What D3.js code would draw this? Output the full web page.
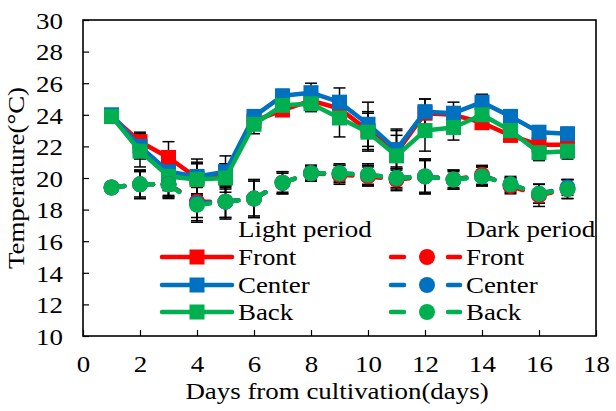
<!DOCTYPE html>
<html>
<head>
<meta charset="utf-8">
<script src="https://cdn.jsdelivr.net/npm/d3@7"></script>
<style>
  html, body { margin: 0; padding: 0; background: #fff; }
  svg { display: block; }
  text { font-family: "Liberation Serif", "Times New Roman", serif; fill: #000; }
</style>
</head>
<body>
<svg id="chart" width="616" height="411"></svg>
<script>
// ---- data ----
const days = [1,2,3,4,5,6,7,8,9,10,11,12,13,14,15,16,17];
const xTicks = [0,2,4,6,8,10,12,14,16,18];
const yTicks = [10,12,14,16,18,20,22,24,26,28,30];
const seriesNames = ["Front", "Center", "Back"];
const seriesColors = ["#FF0000", "#0070C0", "#00B050"];

const lightFront  = [23.9,22.3,21.3,20.0,20.1,23.6,24.3,24.9,24.4,23.0,21.6,24.1,24.0,23.5,22.7,22.1,22.1];
const lightCenter = [24.0,22.0,20.4,20.1,20.4,23.9,25.2,25.4,24.8,23.4,21.8,24.2,24.1,24.8,23.9,22.9,22.8];
const lightBack   = [23.9,21.7,20.1,19.9,20.0,23.4,24.6,24.7,23.8,22.9,21.4,23.0,23.2,24.0,23.0,21.6,21.7];
const darkFront   = [19.4,19.6,19.6,18.5,18.5,18.7,19.7,20.3,20.2,20.1,19.9,20.1,19.9,20.2,19.5,18.9,19.3];
const darkCenter  = [19.4,19.6,19.6,18.4,18.5,18.7,19.7,20.3,20.3,20.2,20.0,20.1,19.9,20.1,19.6,19.0,19.4];
const darkBack    = [19.4,19.6,19.6,18.3,18.5,18.7,19.7,20.3,20.3,20.2,20.0,20.1,19.9,20.1,19.6,19.0,19.3];

const lightFrontErr  = [0.4,0.6,1.0,1.0,0.8,0.5,0.3,0.6,0.8,1.2,1.4,0.9,0.5,0.4,0.4,0.5,0.4];
const lightCenterErr = [0.3,0.8,1.2,1.1,1.0,0.4,0.4,0.6,0.9,1.4,1.3,0.8,0.7,0.5,0.3,0.4,0.4];
const lightBackErr   = [0.4,1.0,1.2,1.0,0.9,0.6,0.5,0.5,1.2,1.2,1.3,1.3,0.8,0.4,0.6,0.5,0.5];
const darkFrontErr   = [0.3,0.9,0.9,1.0,1.0,1.2,0.7,0.5,0.6,0.6,0.7,1.1,0.5,0.6,0.5,0.7,0.6];
const darkCenterErr  = [0.3,0.8,0.8,1.1,1.1,1.1,0.6,0.4,0.5,0.7,0.6,1.0,0.6,0.6,0.4,0.6,0.5];
const darkBackErr    = [0.3,0.9,0.8,1.1,1.0,1.2,0.7,0.5,0.6,0.6,0.7,1.1,0.6,0.6,0.5,0.6,0.6];

const lightSeries = [
  {name: seriesNames[0], color: seriesColors[0], values: lightFront,  err: lightFrontErr},
  {name: seriesNames[1], color: seriesColors[1], values: lightCenter, err: lightCenterErr},
  {name: seriesNames[2], color: seriesColors[2], values: lightBack,   err: lightBackErr}
];
const darkSeries = [
  {name: seriesNames[0], color: seriesColors[0], values: darkFront,  err: darkFrontErr},
  {name: seriesNames[1], color: seriesColors[1], values: darkCenter, err: darkCenterErr},
  {name: seriesNames[2], color: seriesColors[2], values: darkBack,   err: darkBackErr}
];

// ---- layout ----
const svg = d3.select("#chart");
const L = 83, R = 596, T = 20, B = 336;
const x = d3.scaleLinear().domain([0, 18]).range([L, R]);
const y = d3.scaleLinear().domain([10, 30]).range([B, T]);
const FS = 23;
const SX = 1.17; // horizontal stretch of the text in the reference

// helper: stretched text placed at (px, py)
function stext(parent, px, py, str, anchor) {
  return parent.append("text")
    .attr("transform", `translate(${px},${py}) scale(${SX},1)`)
    .attr("text-anchor", anchor || "start")
    .style("font-size", FS + "px").text(str);
}

// axes
const yAxis = d3.axisLeft(y).tickValues(yTicks).tickSizeInner(-6).tickSizeOuter(0).tickPadding(20);
const xAxis = d3.axisBottom(x).tickValues(xTicks).tickSizeInner(-6).tickSizeOuter(0).tickPadding(20);

const gy = svg.append("g").attr("transform", `translate(${L},0)`).call(yAxis);
const gx = svg.append("g").attr("transform", `translate(0,${B})`).call(xAxis);
[gx, gy].forEach(g => {
  g.select(".domain").remove();
  g.selectAll(".tick line").attr("stroke", "#000").attr("stroke-width", 1.2);
  g.selectAll(".tick text").style("font-size", FS + "px").style("font-family", '"Liberation Serif", serif').attr("fill", "#000");
});
gy.selectAll(".tick text").attr("dy", "0.36em").attr("x", -20 / SX).attr("transform", `scale(${SX},1)`);
gx.selectAll(".tick text").attr("transform", `scale(${SX},1)`);

svg.append("rect").attr("x", L).attr("y", T).attr("width", R - L).attr("height", B - T)
  .attr("fill", "none").attr("stroke", "#000").attr("stroke-width", 1.6);

// titles
stext(svg, 337, 399, "Days from cultivation(days)", "middle");
svg.append("text").attr("transform", `translate(24,${(T + B) / 2}) rotate(-90) scale(${SX},1)`).attr("text-anchor", "middle")
  .style("font-size", FS + "px").text("Temperature(°C)");

// ---- error bars ----
const capW = 6;
const allSeries = lightSeries.concat(darkSeries);
const eg = svg.append("g");
allSeries.forEach(s => {
  days.forEach((d, i) => {
    const v = s.values[i], e = s.err[i];
    const cx = x(d);
    eg.append("line").attr("x1", cx).attr("x2", cx).attr("y1", y(v - e)).attr("y2", y(v + e))
      .attr("stroke", "#000").attr("stroke-width", 1.5);
    [v - e, v + e].forEach(t => {
      eg.append("line").attr("x1", cx - capW).attr("x2", cx + capW).attr("y1", y(t)).attr("y2", y(t))
        .attr("stroke", "#000").attr("stroke-width", 1.5);
    });
  });
});

// ---- light series: solid lines with square markers ----
const line = d3.line().x((d, i) => x(days[i])).y(d => y(d));
const MS = 15;
lightSeries.forEach(s => {
  svg.append("path").datum(s.values).attr("d", line).attr("fill", "none")
    .attr("stroke", s.color).attr("stroke-width", 4.5).attr("stroke-linejoin", "round");
  svg.append("g").selectAll("rect").data(s.values).join("rect")
    .attr("x", (d, i) => x(days[i]) - MS / 2).attr("y", d => y(d) - MS / 2)
    .attr("width", MS).attr("height", MS).attr("fill", s.color);
});

// ---- dark series: dashed segments with circle markers ----
darkSeries.forEach(s => {
  const g = svg.append("g");
  for (let i = 0; i < days.length - 1; i++) {
    g.append("line")
      .attr("x1", x(days[i])).attr("y1", y(s.values[i]))
      .attr("x2", x(days[i + 1])).attr("y2", y(s.values[i + 1]))
      .attr("stroke", s.color).attr("stroke-width", 4.5)
      .attr("stroke-dasharray", "13,200").attr("stroke-linecap", "round");
  }
  g.selectAll("circle").data(s.values).join("circle")
    .attr("cx", (d, i) => x(days[i])).attr("cy", d => y(d)).attr("r", 8).attr("fill", s.color);
});

// ---- legend ----
const leg = svg.append("g");
stext(leg, 238, 237, "Light period");
stext(leg, 466, 237, "Dark period");
const rowsY = [257, 285, 312];
lightSeries.forEach((s, k) => {
  const yy = rowsY[k];
  leg.append("line").attr("x1", 162).attr("x2", 232).attr("y1", yy).attr("y2", yy)
    .attr("stroke", s.color).attr("stroke-width", 4.5).attr("stroke-linecap", "round");
  leg.append("rect").attr("x", 197 - MS / 2).attr("y", yy - MS / 2).attr("width", MS).attr("height", MS).attr("fill", s.color);
  stext(leg, 238, yy + 8, s.name);
});
darkSeries.forEach((s, k) => {
  const yy = rowsY[k];
  leg.append("line").attr("x1", 391).attr("x2", 460).attr("y1", yy).attr("y2", yy)
    .attr("stroke", s.color).attr("stroke-width", 4.5).attr("stroke-linecap", "round")
    .attr("stroke-dasharray", "13,44");
  leg.append("circle").attr("cx", 427).attr("cy", yy).attr("r", 8).attr("fill", s.color);
  stext(leg, 466, yy + 8, s.name);
});
</script>
</body>
</html>
